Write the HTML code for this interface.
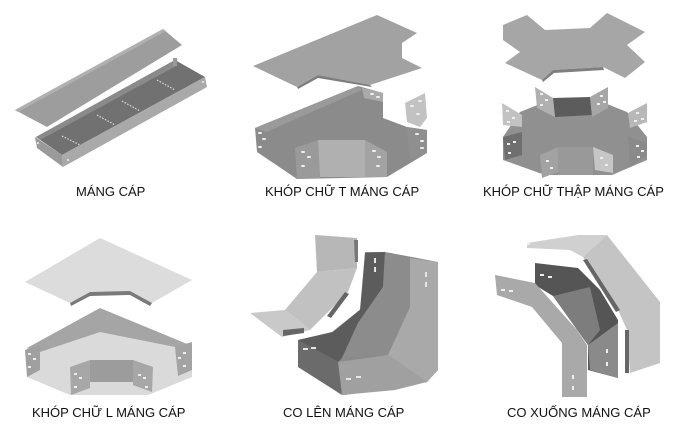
<!DOCTYPE html>
<html><head><meta charset="utf-8"><style>
html,body{margin:0;padding:0;background:#fff;}
svg{display:block;}
text{font-family:"Liberation Sans",Arial,sans-serif;font-size:13px;fill:#111;}
</style></head><body>
<svg width="678" height="429" viewBox="0 0 678 429" xmlns="http://www.w3.org/2000/svg">
<rect width="678" height="429" fill="#fff"/>

<!-- 1. MANG CAP -->
<polygon points="15,110 163,29 182,45 47,127" fill="#9d9d9d"/>
<polygon points="15,110 163,29 166,31 18,112" fill="#b0b0b0"/>
<polygon points="36,137 175,60 205,77 62,155" fill="#717171"/>
<polygon points="36,137 175,60 176,66 40,140" fill="#8a8a8a"/>
<polygon points="62,155 205,77 207,87 63,167" fill="#a9a9a9"/>
<polygon points="35,137 62,155 63,167 37,148" fill="#9a9a9a"/>
<polygon points="173,58 177,58 177,66 173,66" fill="#999"/>
<g stroke="#ddd" stroke-width="1.2" stroke-dasharray="1.5,1.5">
<line x1="62" y1="136" x2="80" y2="145"/>
<line x1="97" y1="115" x2="115" y2="125"/>
<line x1="122" y1="101" x2="140" y2="111"/>
<line x1="157" y1="80" x2="175" y2="90"/>
</g>
<circle cx="38" cy="143" r="1" fill="#eee"/>
<circle cx="68" cy="160" r="1" fill="#eee"/>
<circle cx="203" cy="82" r="1" fill="#eee"/>
<text x="76" y="196">MÁNG CÁP</text>

<!-- 2. KHOP CHU T -->
<polygon points="253,66 377,15 417,33 402,43 402,58 422,68 370,85 318,75 297,87" fill="#a2a2a2"/>
<polygon points="297,87 318,75 370,85 372,87 318,78 298,89" fill="#7d7d7d"/>
<polygon points="255,128 358,86 383,93 383,118 407,127 427,130 427,153 387,177 297,179 257,152" fill="#8b8b8b"/>
<polygon points="255,128 358,86 362,90 266,132" fill="#9a9a9a"/>
<polygon points="362,88 383,93 383,102 364,98" fill="#aaa"/>
<polygon points="295,148 318,140 320,178 297,179" fill="#9a9a9a"/>
<polygon points="318,140 365,140 365,177 320,177" fill="#b0b0b0"/>
<polygon points="365,140 387,152 387,177 365,177" fill="#a3a3a3"/>
<polygon points="407,127 427,130 427,153 410,160" fill="#8f8f8f"/>
<polygon points="405,103 425,93 427,118 420,127 407,122" fill="#c2c2c2"/>
<g fill="#eee">
<rect x="258" y="132" width="4" height="2" rx="1"/><rect x="262" y="138" width="4" height="2" rx="1"/><rect x="258" y="146" width="4" height="2" rx="1"/>
<rect x="301" y="151" width="4" height="2" rx="1"/><rect x="307" y="156" width="4" height="2" rx="1"/><rect x="301" y="165" width="4" height="2" rx="1"/>
<rect x="372" y="150" width="4" height="2" rx="1"/><rect x="377" y="156" width="4" height="2" rx="1"/><rect x="376" y="165" width="4" height="2" rx="1"/>
<rect x="415" y="133" width="4" height="2" rx="1"/><rect x="420" y="140" width="4" height="2" rx="1"/><rect x="420" y="147" width="4" height="2" rx="1"/>
<rect x="370" y="93" width="4" height="2" rx="1"/><rect x="376" y="96" width="4" height="2" rx="1"/>
<rect x="410" y="105" width="4" height="2" rx="1"/><rect x="418" y="100" width="4" height="2" rx="1"/><rect x="416" y="113" width="4" height="2" rx="1"/>
</g>
<text x="265" y="196">KHÓP CHỮ T MÁNG CÁP</text>

<!-- 3. KHOP CHU THAP -->
<polygon points="503,25 527,15 545,30 590,28 607,13 645,32 627,45 645,62 625,78 603,67 553,70 542,80 505,63 520,52 503,40" fill="#a6a6a6"/>
<polygon points="542,80 553,70 603,67 604,70 554,73 543,82" fill="#7f7f7f"/>
<polygon points="503,137 520,112 555,98 592,98 627,112 647,137 647,160 612,175 545,175 503,160" fill="#909090"/>
<polygon points="553,98 590,97 592,115 555,117" fill="#5c5c5c"/>
<polygon points="535,87 553,98 555,117 537,108" fill="#b0b0b0"/>
<polygon points="590,97 608,87 608,108 592,117" fill="#a6a6a6"/>
<polygon points="502,103 522,115 522,127 503,125" fill="#c2c2c2"/>
<polygon points="628,113 647,103 647,122 630,128" fill="#b8b8b8"/>
<polygon points="503,137 522,132 522,155 505,160" fill="#6f6f6f"/>
<polygon points="540,155 558,147 558,172 542,178" fill="#a2a2a2"/>
<polygon points="558,147 593,147 593,175 558,175" fill="#999"/>
<polygon points="593,147 613,155 613,173 595,170" fill="#c6c6c6"/>
<polygon points="628,137 647,143 647,155 630,167" fill="#8a8a8a"/>
<g fill="#eee">
<rect x="540" y="93" width="3" height="2"/><rect x="545" y="99" width="3" height="2"/><rect x="540" y="104" width="3" height="2"/>
<rect x="600" y="95" width="3" height="2"/><rect x="597" y="103" width="3" height="2"/><rect x="603" y="101" width="3" height="2"/>
<rect x="506" y="110" width="3" height="2"/><rect x="512" y="117" width="3" height="2"/><rect x="507" y="121" width="3" height="2"/>
<rect x="636" y="112" width="3" height="2"/><rect x="641" y="118" width="3" height="2"/><rect x="634" y="120" width="3" height="2"/>
<rect x="507" y="143" width="3" height="2"/><rect x="513" y="141" width="3" height="2"/><rect x="508" y="152" width="3" height="2"/>
<rect x="546" y="160" width="3" height="2"/><rect x="550" y="167" width="3" height="2"/>
<rect x="600" y="157" width="3" height="2"/><rect x="605" y="164" width="3" height="2"/>
<rect x="636" y="145" width="3" height="2"/><rect x="641" y="150" width="3" height="2"/><rect x="637" y="156" width="3" height="2"/>
</g>
<text x="483" y="196">KHÓP CHỮ THẬP MÁNG CÁP</text>

<!-- 4. KHOP CHU L -->
<polygon points="25,282 100,238 192,280 152,303 130,291 90,292 70,303" fill="#dcdcdc"/>
<polygon points="90,292 130,291 152,303 150,306 130,295 90,296 71,306 70,303" fill="#7a7a7a"/>
<polygon points="27,348 100,308 192,348 192,377 148,395 70,395 27,377" fill="#dadada"/>
<polygon points="27,348 100,308 192,346 180,348 100,332 40,352" fill="#a5a5a5"/>
<polygon points="25,350 40,345 40,370 27,377" fill="#a0a0a0"/>
<polygon points="175,347 192,342 192,370 178,376" fill="#a3a3a3"/>
<polygon points="70,367 90,360 90,388 71,395" fill="#a7a7a7"/>
<polygon points="90,360 133,360 133,382 90,382" fill="#9c9c9c"/>
<polygon points="133,360 153,367 152,392 133,385" fill="#a7a7a7"/>
<g fill="#eee">
<rect x="28" y="353" width="3" height="2"/><rect x="33" y="358" width="3" height="2"/><rect x="28" y="366" width="3" height="2"/>
<rect x="183" y="352" width="3" height="2"/><rect x="178" y="357" width="3" height="2"/><rect x="183" y="365" width="3" height="2"/>
<rect x="74" y="373" width="3" height="2"/><rect x="79" y="377" width="3" height="2"/><rect x="74" y="386" width="3" height="2"/>
<rect x="138" y="374" width="3" height="2"/><rect x="143" y="377" width="3" height="2"/><rect x="145" y="386" width="3" height="2"/>
</g>
<text x="32" y="417">KHÓP CHỮ L MÁNG CÁP</text>

<!-- 5. CO LEN -->
<polygon points="315,235 357,238 357,268 317,272" fill="#b7b7b7"/>
<polygon points="317,272 357,268 348,292 310,330 285,310" fill="#c1c1c1"/>
<polygon points="250,313 285,310 310,330 282,337" fill="#c9c9c9"/>
<polygon points="354,240 358,240 358,262 355,262" fill="#777"/>
<polygon points="345,292 349,294 331,318 327,316" fill="#666"/>
<polygon points="283,330 304,328 304,333 283,336" fill="#666"/>
<polygon points="365,252 385,252 412,257 438,262 438,370 427,382 345,395 298,367 298,340 332,332 362,308" fill="#8a8a8a"/>
<polygon points="365,253 385,252 383,287 358,323 342,358 338,362 298,340 333,332 360,310" fill="#5c5c5c"/>
<polygon points="385,253 410,258 410,307 388,355 342,358 358,323 383,287" fill="#8c8c8c"/>
<polygon points="410,258 438,262 438,370 427,382 388,355 410,307" fill="#a9a9a9"/>
<polygon points="338,362 388,355 427,382 395,390 342,395" fill="#a0a0a0"/>
<polygon points="298,340 338,362 342,395 298,367" fill="#6b6b6b"/>
<g fill="#e6e6e6">
<rect x="374" y="258" width="2" height="5"/><rect x="374" y="267" width="2" height="5"/>
<rect x="425" y="272" width="2" height="5"/><rect x="425" y="282" width="2" height="5"/>
<rect x="303" y="348" width="5" height="2"/><rect x="311" y="347" width="5" height="2"/>
<rect x="346" y="378" width="5" height="2"/><rect x="356" y="376" width="5" height="2"/>
</g>
<text x="283" y="417">CO LÊN MÁNG CÁP</text>

<!-- 6. CO XUONG -->
<polygon points="527,243 578,235 607,235 583,257 570,250 527,248" fill="#d0d0d0"/>
<polygon points="583,257 607,235 660,302 660,363 630,373 627,330 618,310" fill="#c4c4c4"/>
<polygon points="583,260 587,259 620,310 616,312" fill="#666"/>
<polygon points="625,330 629,330 629,373 625,373" fill="#666"/>
<polygon points="535,263 578,268 600,290 618,320 618,378 588,370 588,345 553,296 535,285" fill="#555"/>
<polygon points="553,296 590,287 600,330 588,345" fill="#7d7d7d"/>
<polygon points="588,345 618,323 618,378 590,370" fill="#8a8a8a"/>
<polygon points="495,275 535,283 577,330 587,345 587,397 562,397 562,343 532,307 497,295" fill="#a9a9a9"/>
<g fill="#eee">
<rect x="501" y="289" width="4" height="2"/><rect x="509" y="290" width="4" height="2"/>
<rect x="540" y="274" width="4" height="2"/><rect x="548" y="276" width="4" height="2"/>
<rect x="527" y="243" width="3" height="2"/>
<rect x="606" y="349" width="2" height="4"/><rect x="606" y="362" width="2" height="4"/>
<rect x="572" y="375" width="2" height="4"/><rect x="572" y="386" width="2" height="4"/>
</g>
<text x="507" y="417">CO XUỐNG MÁNG CÁP</text>
</svg>
</body></html>
